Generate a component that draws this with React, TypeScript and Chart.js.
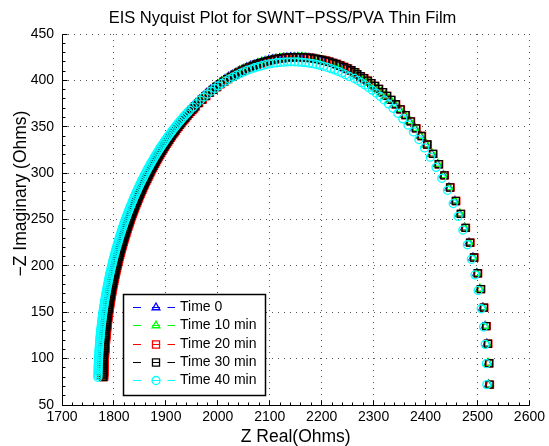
import React, { useEffect, useRef } from 'react';
import { Chart, registerables } from 'chart.js';

Chart.register(...registerables);

// ---------------- DATA ----------------
const TITLE = 'EIS Nyquist Plot for SWNT\u2212PSS/PVA Thin Film';
const X_LABEL = 'Z Real(Ohms)';
const Y_LABEL = '\u2212Z Imaginary (Ohms)';
const SERIES_LABELS = ['Time 0', 'Time 10 min', 'Time 20 min', 'Time 30 min', 'Time 40 min'];

const xTickValues = [1700, 1800, 1900, 2000, 2100, 2200, 2300, 2400, 2500, 2600];
const yTickValues = [50, 100, 150, 200, 250, 300, 350, 400, 450];

// -Z imaginary (Time 0 .. Time 30 share these readings)
const zImag = [
  72, 95, 116, 135, 155, 175, 192, 209, 225, 241, 256, 270, 284.5,
  297.6, 309.6, 320.7, 330.8, 340.0, 348.3, 355.8, 362.6, 368.7, 374.2, 379.0, 383.3, 387.2, 390.8, 394.0, 397.0, 399.7, 402.3, 404.6, 406.8,
  408.9, 410.9, 412.8, 414.5, 416.1, 417.6, 418.9, 420.1, 421.1, 422.0, 422.9, 423.5, 424.1, 424.5, 424.8, 425.0, 425.0, 424.9, 424.7, 424.4, 423.9, 423.3, 422.6, 421.8, 420.8, 419.7, 418.5, 417.1, 415.7, 414.0, 412.3, 410.4, 408.3, 406.1, 403.8, 401.3, 398.7, 395.9, 392.9, 389.8, 386.5, 383.0, 379.3, 375.5,
  372, 370, 368, 366, 364, 362, 360, 358, 356, 354,
  352, 350, 348, 346, 344, 342, 340, 338, 336, 334,
  332, 330, 328, 326, 324, 322, 320, 318, 316, 314,
  312, 310, 308, 306, 304, 302, 300, 298, 296, 294,
  292, 290, 288, 286, 284, 282, 280, 278, 276, 274,
  272, 270, 268, 266, 264, 262, 260, 258, 256, 254,
  252, 250, 248, 246, 244, 242, 240, 238, 236, 234,
  232, 230, 228, 226, 224, 222, 220, 218, 216, 214,
  212, 210, 208, 206, 204, 202, 200, 198, 196, 194,
  192, 190, 188, 186, 184, 182, 180, 178, 176, 174,
  172, 170, 168, 166, 164, 162, 160, 158, 156, 154,
  152, 150, 148, 146, 144, 142, 140, 138, 136, 134,
  132, 130, 128, 126, 124, 122, 120, 118, 116, 114,
  112, 110, 108, 106, 104, 102, 100, 98, 96, 94,
  92, 90, 88, 86, 84, 82, 80,
];

// -Z imaginary, Time 40 min
const zImag40 = [
  72.0, 94.6, 115.4, 134.1, 153.8, 173.5, 190.3, 207.1, 222.8, 238.6, 253.4, 267.2, 281.5,
  294.4, 306.2, 317.2, 327.2, 336.2, 344.4, 351.8, 358.5, 364.5, 369.9, 374.7, 378.9, 382.8, 386.3, 389.5, 392.4, 395.1, 397.6, 399.9, 402.1,
  404.2, 406.1, 408.0, 409.7, 411.3, 412.7, 414.0, 415.2, 416.2, 417.1, 418.0, 418.6, 419.1, 419.5, 419.8, 420.0, 420.0, 419.9, 419.7, 419.4, 419.0, 418.4, 417.7, 416.9, 415.9, 414.8, 413.6, 412.2, 410.9, 409.2, 407.5, 405.6, 403.6, 401.4, 399.1, 396.7, 394.1, 391.3, 388.4, 385.3, 382.1, 378.6, 375.0, 371.2,
  367.8, 365.8, 363.8, 361.9, 359.9, 357.9, 355.9, 354.0, 352.0, 350.0,
  348.1, 346.1, 344.1, 342.1, 340.2, 338.2, 336.2, 334.2, 332.3, 330.3,
  328.3, 326.4, 324.4, 322.4, 320.4, 318.5, 316.5, 314.5, 312.6, 310.6,
  308.6, 306.6, 304.7, 302.7, 300.7, 298.8, 296.8, 294.8, 292.8, 290.9,
  288.9, 286.9, 285.0, 283.0, 281.0, 279.0, 277.1, 275.1, 273.1, 271.1,
  269.2, 267.2, 265.2, 263.3, 261.3, 259.3, 257.3, 255.4, 253.4, 251.4,
  249.5, 247.5, 245.5, 243.5, 241.6, 239.6, 237.6, 235.7, 233.7, 231.7,
  229.7, 227.8, 225.8, 223.8, 221.8, 219.9, 217.9, 215.9, 214.0, 212.0,
  210.0, 208.0, 206.1, 204.1, 202.1, 200.2, 198.2, 196.2, 194.2, 192.3,
  190.3, 188.3, 186.3, 184.4, 182.4, 180.4, 178.5, 176.5, 174.5, 172.5,
  170.6, 168.6, 166.6, 164.7, 162.7, 160.7, 158.7, 156.8, 154.8, 152.8,
  150.9, 148.9, 146.9, 144.9, 143.0, 141.0, 139.0, 137.0, 135.1, 133.1,
  131.1, 129.2, 127.2, 125.2, 123.2, 121.3, 119.3, 117.3, 115.4, 113.4,
  111.4, 109.4, 107.5, 105.5, 103.5, 101.6, 99.6, 97.6, 95.6, 93.7,
  91.7, 89.7, 87.7, 85.8, 83.8, 81.8, 79.9,
];

// Z real, Time 0
const zReal0 = [
  2521.0, 2520.1, 2517.9, 2514.7, 2510.2, 2504.3, 2498.3, 2491.2, 2483.6, 2474.9, 2465.7, 2456.2, 2445.2,
  2434.2, 2423.2, 2412.2, 2401.1, 2390.2, 2379.6, 2369.2, 2359.2, 2349.5, 2340.4, 2331.6, 2323.5, 2315.5, 2307.8, 2300.4, 2293.2, 2286.3, 2279.3, 2272.7, 2266.0,
  2259, 2252, 2245, 2238, 2231, 2224, 2217, 2210, 2203, 2196, 2189, 2182, 2175, 2168, 2161, 2154, 2147, 2140, 2133, 2126, 2119, 2112, 2105, 2098, 2091, 2084, 2077, 2070, 2063, 2056, 2049, 2042, 2035, 2028, 2021, 2014, 2007, 2000, 1993, 1986, 1979, 1972, 1965, 1958,
  1951.9, 1948.6, 1945.3, 1942.1, 1938.9, 1935.9, 1932.9, 1930.0, 1927.0, 1924.2,
  1921.4, 1918.7, 1916.0, 1913.4, 1910.8, 1908.3, 1905.8, 1903.4, 1901.0, 1898.7,
  1896.3, 1894.0, 1891.8, 1889.6, 1887.4, 1885.3, 1883.2, 1881.2, 1879.1, 1877.1,
  1875.1, 1873.2, 1871.2, 1869.4, 1867.5, 1865.7, 1863.9, 1862.2, 1860.4, 1858.7,
  1856.9, 1855.3, 1853.6, 1852.0, 1850.4, 1848.9, 1847.3, 1845.8, 1844.2, 1842.8,
  1841.3, 1839.9, 1838.4, 1837.0, 1835.6, 1834.3, 1832.9, 1831.6, 1830.3, 1829.0,
  1827.7, 1826.5, 1825.3, 1824.1, 1822.9, 1821.7, 1820.5, 1819.4, 1818.3, 1817.2,
  1816.1, 1815.1, 1814.0, 1813.0, 1811.9, 1810.9, 1809.9, 1809.0, 1808.0, 1807.1,
  1806.1, 1805.2, 1804.3, 1803.5, 1802.6, 1801.8, 1800.9, 1800.1, 1799.3, 1798.5,
  1797.7, 1797.0, 1796.2, 1795.5, 1794.8, 1794.1, 1793.4, 1792.7, 1792.0, 1791.4,
  1790.7, 1790.1, 1789.5, 1788.9, 1788.3, 1787.8, 1787.2, 1786.7, 1786.1, 1785.6,
  1785.1, 1784.6, 1784.1, 1783.7, 1783.2, 1782.8, 1782.3, 1781.9, 1781.5, 1781.1,
  1780.7, 1780.4, 1780.0, 1779.7, 1779.3, 1779.0, 1778.7, 1778.4, 1778.1, 1777.9,
  1777.6, 1777.4, 1777.1, 1776.9, 1776.7, 1776.5, 1776.3, 1776.2, 1776.0, 1775.9,
  1775.7, 1775.6, 1775.5, 1775.4, 1775.3, 1775.2, 1775.1,
];

// Z real, Time 10 min
const zReal10 = [
  2522.0, 2521.1, 2518.9, 2515.7, 2511.2, 2505.3, 2499.3, 2492.2, 2484.6, 2475.9, 2466.7, 2457.2, 2446.2,
  2435.2, 2424.2, 2413.2, 2402.1, 2391.2, 2380.6, 2370.2, 2360.2, 2350.5, 2341.4, 2332.6, 2324.5, 2316.5, 2308.8, 2301.4, 2294.2, 2287.3, 2280.3, 2273.7, 2267.0,
  2261, 2254, 2247, 2240, 2233, 2226, 2219, 2212, 2205, 2198, 2191, 2184, 2177, 2170, 2163, 2156, 2149, 2142, 2135, 2128, 2121, 2114, 2107, 2100, 2093, 2086, 2079, 2072, 2065, 2058, 2051, 2044, 2037, 2030, 2023, 2016, 2009, 2002, 1995, 1988, 1981, 1974, 1967, 1960,
  1953.9, 1950.6, 1947.3, 1944.1, 1940.9, 1937.9, 1934.9, 1932.0, 1929.0, 1926.2,
  1923.4, 1920.7, 1918.0, 1915.4, 1912.8, 1910.3, 1907.8, 1905.4, 1903.0, 1900.7,
  1898.3, 1896.0, 1893.8, 1891.6, 1889.4, 1887.3, 1885.2, 1883.2, 1881.1, 1879.1,
  1877.1, 1875.2, 1873.2, 1871.4, 1869.5, 1867.7, 1865.9, 1864.2, 1862.4, 1860.7,
  1858.9, 1857.3, 1855.6, 1854.0, 1852.4, 1850.9, 1849.3, 1847.8, 1846.2, 1844.8,
  1843.3, 1841.9, 1840.4, 1839.0, 1837.6, 1836.3, 1834.9, 1833.6, 1832.3, 1831.0,
  1829.7, 1828.5, 1827.3, 1826.1, 1824.9, 1823.7, 1822.5, 1821.4, 1820.3, 1819.2,
  1818.1, 1817.1, 1816.0, 1815.0, 1813.9, 1812.9, 1811.9, 1811.0, 1810.0, 1809.1,
  1808.1, 1807.2, 1806.3, 1805.5, 1804.6, 1803.8, 1802.9, 1802.1, 1801.3, 1800.5,
  1799.7, 1799.0, 1798.2, 1797.5, 1796.8, 1796.1, 1795.4, 1794.7, 1794.0, 1793.4,
  1792.7, 1792.1, 1791.5, 1790.9, 1790.3, 1789.8, 1789.2, 1788.7, 1788.1, 1787.6,
  1787.1, 1786.6, 1786.1, 1785.7, 1785.2, 1784.8, 1784.3, 1783.9, 1783.5, 1783.1,
  1782.7, 1782.4, 1782.0, 1781.7, 1781.3, 1781.0, 1780.7, 1780.4, 1780.1, 1779.9,
  1779.6, 1779.4, 1779.1, 1778.9, 1778.7, 1778.5, 1778.3, 1778.2, 1778.0, 1777.9,
  1777.7, 1777.6, 1777.5, 1777.4, 1777.3, 1777.2, 1777.1,
];

// Z real, Time 20 min
const zReal20 = [
  2524.0, 2523.1, 2520.9, 2517.7, 2513.2, 2507.3, 2501.3, 2494.2, 2486.6, 2477.9, 2468.7, 2459.2, 2448.2,
  2437.2, 2426.2, 2415.2, 2404.1, 2393.2, 2382.6, 2372.2, 2362.2, 2352.5, 2343.4, 2334.6, 2326.5, 2318.5, 2310.8, 2303.4, 2296.2, 2289.3, 2282.3, 2275.7, 2269.0,
  2265, 2258, 2251, 2244, 2237, 2230, 2223, 2216, 2209, 2202, 2195, 2188, 2181, 2174, 2167, 2160, 2153, 2146, 2139, 2132, 2125, 2118, 2111, 2104, 2097, 2090, 2083, 2076, 2069, 2062, 2055, 2048, 2041, 2034, 2027, 2020, 2013, 2006, 1999, 1992, 1985, 1978, 1971, 1964,
  1957.9, 1954.6, 1951.3, 1948.1, 1944.9, 1941.9, 1938.9, 1936.0, 1933.0, 1930.2,
  1927.4, 1924.7, 1922.0, 1919.4, 1916.8, 1914.3, 1911.8, 1909.4, 1907.0, 1904.7,
  1902.3, 1900.0, 1897.8, 1895.6, 1893.4, 1891.3, 1889.2, 1887.2, 1885.1, 1883.1,
  1881.1, 1879.2, 1877.2, 1875.4, 1873.5, 1871.7, 1869.9, 1868.2, 1866.4, 1864.7,
  1862.9, 1861.3, 1859.6, 1858.0, 1856.4, 1854.9, 1853.3, 1851.8, 1850.2, 1848.8,
  1847.3, 1845.9, 1844.4, 1843.0, 1841.6, 1840.3, 1838.9, 1837.6, 1836.3, 1835.0,
  1833.7, 1832.5, 1831.3, 1830.1, 1828.9, 1827.7, 1826.5, 1825.4, 1824.3, 1823.2,
  1822.1, 1821.1, 1820.0, 1819.0, 1817.9, 1816.9, 1815.9, 1815.0, 1814.0, 1813.1,
  1812.1, 1811.2, 1810.3, 1809.5, 1808.6, 1807.8, 1806.9, 1806.1, 1805.3, 1804.5,
  1803.7, 1803.0, 1802.2, 1801.5, 1800.8, 1800.1, 1799.4, 1798.7, 1798.0, 1797.4,
  1796.7, 1796.1, 1795.5, 1794.9, 1794.3, 1793.8, 1793.2, 1792.7, 1792.1, 1791.6,
  1791.1, 1790.6, 1790.1, 1789.7, 1789.2, 1788.8, 1788.3, 1787.9, 1787.5, 1787.1,
  1786.7, 1786.4, 1786.0, 1785.7, 1785.3, 1785.0, 1784.7, 1784.4, 1784.1, 1783.9,
  1783.6, 1783.4, 1783.1, 1782.9, 1782.7, 1782.5, 1782.3, 1782.2, 1782.0, 1781.9,
  1781.7, 1781.6, 1781.5, 1781.4, 1781.3, 1781.2, 1781.1,
];

// Z real, Time 30 min
const zReal30 = [
  2523.0, 2522.1, 2519.9, 2516.7, 2512.2, 2506.3, 2500.3, 2493.2, 2485.6, 2476.9, 2467.7, 2458.2, 2447.2,
  2436.2, 2425.2, 2414.2, 2403.1, 2392.2, 2381.6, 2371.2, 2361.2, 2351.5, 2342.4, 2333.6, 2325.5, 2317.5, 2309.8, 2302.4, 2295.2, 2288.3, 2281.3, 2274.7, 2268.0,
  2263, 2256, 2249, 2242, 2235, 2228, 2221, 2214, 2207, 2200, 2193, 2186, 2179, 2172, 2165, 2158, 2151, 2144, 2137, 2130, 2123, 2116, 2109, 2102, 2095, 2088, 2081, 2074, 2067, 2060, 2053, 2046, 2039, 2032, 2025, 2018, 2011, 2004, 1997, 1990, 1983, 1976, 1969, 1962,
  1955.9, 1952.6, 1949.3, 1946.1, 1942.9, 1939.9, 1936.9, 1934.0, 1931.0, 1928.2,
  1925.4, 1922.7, 1920.0, 1917.4, 1914.8, 1912.3, 1909.8, 1907.4, 1905.0, 1902.7,
  1900.3, 1898.0, 1895.8, 1893.6, 1891.4, 1889.3, 1887.2, 1885.2, 1883.1, 1881.1,
  1879.1, 1877.2, 1875.2, 1873.4, 1871.5, 1869.7, 1867.9, 1866.2, 1864.4, 1862.7,
  1860.9, 1859.3, 1857.6, 1856.0, 1854.4, 1852.9, 1851.3, 1849.8, 1848.2, 1846.8,
  1845.3, 1843.9, 1842.4, 1841.0, 1839.6, 1838.3, 1836.9, 1835.6, 1834.3, 1833.0,
  1831.7, 1830.5, 1829.3, 1828.1, 1826.9, 1825.7, 1824.5, 1823.4, 1822.3, 1821.2,
  1820.1, 1819.1, 1818.0, 1817.0, 1815.9, 1814.9, 1813.9, 1813.0, 1812.0, 1811.1,
  1810.1, 1809.2, 1808.3, 1807.5, 1806.6, 1805.8, 1804.9, 1804.1, 1803.3, 1802.5,
  1801.7, 1801.0, 1800.2, 1799.5, 1798.8, 1798.1, 1797.4, 1796.7, 1796.0, 1795.4,
  1794.7, 1794.1, 1793.5, 1792.9, 1792.3, 1791.8, 1791.2, 1790.7, 1790.1, 1789.6,
  1789.1, 1788.6, 1788.1, 1787.7, 1787.2, 1786.8, 1786.3, 1785.9, 1785.5, 1785.1,
  1784.7, 1784.4, 1784.0, 1783.7, 1783.3, 1783.0, 1782.7, 1782.4, 1782.1, 1781.9,
  1781.6, 1781.4, 1781.1, 1780.9, 1780.7, 1780.5, 1780.3, 1780.2, 1780.0, 1779.9,
  1779.7, 1779.6, 1779.5, 1779.4, 1779.3, 1779.2, 1779.1,
];

// Z real, Time 40 min
const zReal40 = [
  2518.0, 2517.1, 2514.9, 2511.7, 2507.2, 2501.3, 2495.3, 2488.2, 2480.6, 2471.9, 2462.7, 2453.2, 2442.2,
  2431.2, 2420.2, 2409.2, 2398.1, 2387.2, 2376.6, 2366.2, 2356.2, 2346.5, 2337.4, 2328.6, 2320.5, 2312.5, 2304.8, 2297.4, 2290.2, 2283.3, 2276.3, 2269.7, 2263.0,
  2253, 2246, 2239, 2232, 2225, 2218, 2211, 2204, 2197, 2190, 2183, 2176, 2169, 2162, 2155, 2148, 2141, 2134, 2127, 2120, 2113, 2106, 2099, 2092, 2085, 2078, 2071, 2064, 2057, 2050, 2043, 2036, 2029, 2022, 2015, 2008, 2001, 1994, 1987, 1980, 1973, 1966, 1959, 1952,
  1945.9, 1942.6, 1939.3, 1936.1, 1932.9, 1929.9, 1926.9, 1924.0, 1921.0, 1918.2,
  1915.4, 1912.7, 1910.0, 1907.4, 1904.8, 1902.3, 1899.8, 1897.4, 1895.0, 1892.7,
  1890.3, 1888.0, 1885.8, 1883.6, 1881.4, 1879.3, 1877.2, 1875.2, 1873.1, 1871.1,
  1869.1, 1867.2, 1865.2, 1863.4, 1861.5, 1859.7, 1857.9, 1856.2, 1854.4, 1852.7,
  1850.9, 1849.3, 1847.6, 1846.0, 1844.4, 1842.9, 1841.3, 1839.8, 1838.2, 1836.8,
  1835.3, 1833.9, 1832.4, 1831.0, 1829.6, 1828.3, 1826.9, 1825.6, 1824.3, 1823.0,
  1821.7, 1820.5, 1819.3, 1818.1, 1816.9, 1815.7, 1814.5, 1813.4, 1812.3, 1811.2,
  1810.1, 1809.1, 1808.0, 1807.0, 1805.9, 1804.9, 1803.9, 1803.0, 1802.0, 1801.1,
  1800.1, 1799.2, 1798.3, 1797.5, 1796.6, 1795.8, 1794.9, 1794.1, 1793.3, 1792.5,
  1791.7, 1791.0, 1790.2, 1789.5, 1788.8, 1788.1, 1787.4, 1786.7, 1786.0, 1785.4,
  1784.7, 1784.1, 1783.5, 1782.9, 1782.3, 1781.8, 1781.2, 1780.7, 1780.1, 1779.6,
  1779.1, 1778.6, 1778.1, 1777.7, 1777.2, 1776.8, 1776.3, 1775.9, 1775.5, 1775.1,
  1774.7, 1774.4, 1774.0, 1773.7, 1773.3, 1773.0, 1772.7, 1772.4, 1772.1, 1771.9,
  1771.6, 1771.4, 1771.1, 1770.9, 1770.7, 1770.5, 1770.3, 1770.2, 1770.0, 1769.9,
  1769.7, 1769.6, 1769.5, 1769.4, 1769.3, 1769.2, 1769.1,
];

// ---------------- STYLE ----------------
const FONT = '"Liberation Sans", Arial, Helvetica, sans-serif';

const SERIES = [
  { label: SERIES_LABELS[0], re: zReal0, im: zImag, color: '#0000ff', style: 'triangle', r: 4.5 },
  { label: SERIES_LABELS[1], re: zReal10, im: zImag, color: '#00ff00', style: 'triangle', r: 4.5 },
  { label: SERIES_LABELS[2], re: zReal20, im: zImag, color: '#ff0000', style: 'rect', r: 5 },
  { label: SERIES_LABELS[3], re: zReal30, im: zImag, color: '#000000', style: 'rect', r: 5 },
  { label: SERIES_LABELS[4], re: zReal40, im: zImag40, color: '#00ffff', style: 'circle', r: 4 },
];

function drawMarker(ctx: CanvasRenderingContext2D, style: string, x: number, y: number, r: number) {
  ctx.beginPath();
  if (style === 'triangle') {
    ctx.moveTo(x, y - r);
    ctx.lineTo(x + 0.8660254 * r, y + 0.5 * r);
    ctx.lineTo(x - 0.8660254 * r, y + 0.5 * r);
    ctx.closePath();
  } else if (style === 'rect') {
    const s = r * Math.SQRT1_2;
    ctx.rect(x - s, y - s, 2 * s, 2 * s);
  } else {
    ctx.arc(x, y, r, 0, Math.PI * 2);
  }
  ctx.stroke();
}

const matlabPlugin = {
  id: 'matlabLook',
  afterDraw(chart: any) {
    const { ctx, chartArea: ca } = chart;
    const xs = chart.scales.x;
    const ys = chart.scales.y;
    const al = (p: number) => Math.round(p - 0.5) + 0.5;
    ctx.save();
    ctx.setLineDash([]);
    ctx.strokeStyle = '#000';
    ctx.lineWidth = 1;

    // axis lines (left + bottom)
    const L = al(ca.left);
    const B = al(ca.bottom);
    ctx.beginPath();
    ctx.moveTo(L, al(ca.top));
    ctx.lineTo(L, B);
    ctx.lineTo(al(ca.right), B);
    ctx.stroke();

    // inward ticks (major + minor)
    ctx.beginPath();
    const xMin = xTickValues[0];
    const xMax = xTickValues[xTickValues.length - 1];
    const xStep = xTickValues[1] - xTickValues[0];
    for (let v = xMin; v <= xMax + 1e-6; v += xStep / 5) {
      const major = Math.abs((v - xMin) % xStep) < 1e-6;
      const px = al(xs.getPixelForValue(v));
      ctx.moveTo(px, B);
      ctx.lineTo(px, B - (major ? 5 : 3));
    }
    const yMin = yTickValues[0];
    const yMax = yTickValues[yTickValues.length - 1];
    const yStep = yTickValues[1] - yTickValues[0];
    for (let v = yMin; v <= yMax + 1e-6; v += yStep / 5) {
      const major = Math.abs((v - yMin) % yStep) < 1e-6;
      const py = al(ys.getPixelForValue(v));
      ctx.moveTo(L, py);
      ctx.lineTo(L + (major ? 5 : 3), py);
    }
    ctx.stroke();

    // title and axis labels
    ctx.fillStyle = '#000';
    ctx.textAlign = 'center';
    ctx.textBaseline = 'alphabetic';
    ctx.font = `16.5px ${FONT}`;
    ctx.fillText(TITLE, 282.5, 23);
    ctx.font = `17.5px ${FONT}`;
    ctx.fillText(X_LABEL, (ca.left + ca.right) / 2, 441.5);
    ctx.save();
    ctx.translate(26, 193.5);
    ctx.rotate(-Math.PI / 2);
    ctx.fillText(Y_LABEL, 0, 0);
    ctx.restore();

    // legend
    const lx = Math.round(ca.left + 61);
    const ly = Math.round(ca.bottom - 111);
    const lw = 142;
    const lh = 101;
    ctx.fillStyle = '#fff';
    ctx.fillRect(lx, ly, lw, lh);
    ctx.strokeStyle = '#000';
    ctx.lineWidth = 1.5;
    ctx.strokeRect(lx + 0.5, ly + 0.5, lw, lh);
    ctx.font = `14px ${FONT}`;
    ctx.textAlign = 'left';
    ctx.textBaseline = 'middle';
    SERIES.forEach((s, i) => {
      const y = Math.round(ly + 13 + i * 18.3) + 0.5;
      ctx.strokeStyle = s.color;
      ctx.lineWidth = 1;
      ctx.beginPath();
      ctx.moveTo(lx + 10, y); ctx.lineTo(lx + 18, y);
      ctx.moveTo(lx + 29, y); ctx.lineTo(lx + 37, y);
      ctx.moveTo(lx + 44.5, y); ctx.lineTo(lx + 52, y);
      ctx.stroke();
      ctx.lineWidth = 1.3;
      drawMarker(ctx, s.style, lx + 33, y, s.r);
      ctx.fillStyle = '#000';
      ctx.fillText(s.label, lx + 57, y);
    });
    ctx.restore();
  },
};

export default function App() {
  const ref = useRef<HTMLCanvasElement>(null);
  useEffect(() => {
    if (!ref.current) return;
    const chart = new Chart(ref.current, {
      type: 'scatter',
      data: {
        datasets: SERIES.map((s, i) => ({
          label: s.label,
          data: s.re.map((x, k) => ({ x, y: s.im[k] })),
          showLine: false,
          pointStyle: s.style as any,
          pointRadius: s.r,
          pointHoverRadius: s.r,
          pointBorderWidth: 1.3,
          pointBorderColor: s.color,
          pointBackgroundColor: 'rgba(0,0,0,0)',
          borderColor: s.color,
          backgroundColor: 'rgba(0,0,0,0)',
          order: SERIES.length - i,
        })),
      },
      options: {
        animation: false,
        responsive: false,
        devicePixelRatio: 1,
        events: [],
        layout: { padding: { top: 34, right: 18, left: 0, bottom: 0 } },
        plugins: {
          legend: { display: false },
          title: { display: false },
          tooltip: { enabled: false },
        },
        scales: {
          x: {
            type: 'linear',
            min: xTickValues[0],
            max: xTickValues[xTickValues.length - 1],
            afterBuildTicks: (scale: any) => {
              scale.ticks = xTickValues.map((v) => ({ value: v }));
            },
            afterFit: (scale: any) => {
              scale.height = 41;
            },
            ticks: {
              autoSkip: false,
              maxRotation: 0,
              padding: 4,
              color: '#000',
              font: { family: FONT, size: 14 },
              callback: (v: any) => String(v),
            },
            grid: { color: '#555', lineWidth: 1, drawTicks: false },
            border: { display: false, dash: [1, 5] },
          },
          y: {
            type: 'linear',
            min: yTickValues[0],
            max: yTickValues[yTickValues.length - 1],
            afterBuildTicks: (scale: any) => {
              scale.ticks = yTickValues.map((v) => ({ value: v }));
            },
            afterFit: (scale: any) => {
              scale.width = 62;
            },
            ticks: {
              autoSkip: false,
              padding: 8,
              color: '#000',
              font: { family: FONT, size: 14 },
              callback: (v: any) => String(v),
            },
            grid: { color: '#555', lineWidth: 1, drawTicks: false },
            border: { display: false, dash: [1, 5] },
          },
        },
      },
      plugins: [matlabPlugin],
    } as any);
    return () => chart.destroy();
  }, []);
  return (
    <canvas
      ref={ref}
      width={549}
      height={446}
      style={{ position: 'absolute', left: 0, top: 0, width: 549, height: 446 }}
    />
  );
}
